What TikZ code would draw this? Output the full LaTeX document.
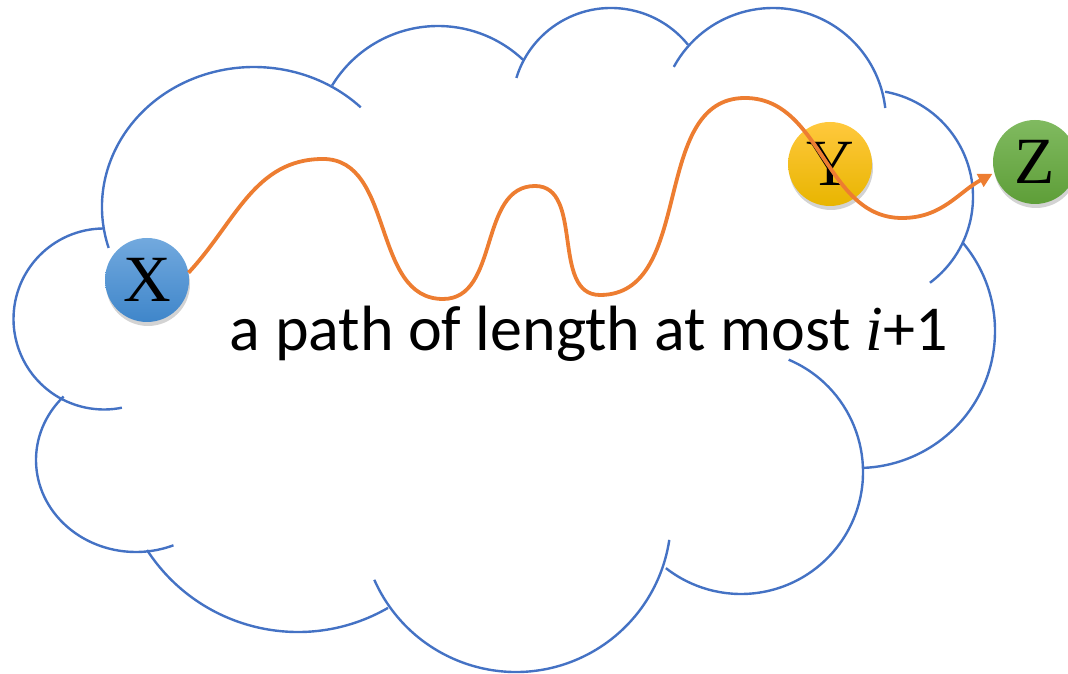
\documentclass[tikz,border=0pt]{standalone}
\usepackage{fontspec}
\setmainfont{Carlito}
\newfontfamily\letterfont{Liberation Serif}
\usetikzlibrary{arrows.meta,shadows}
\definecolor{CloudBlue}{HTML}{4472C4}
\definecolor{WalkOrange}{HTML}{ED7D31}
\definecolor{BlueTop}{HTML}{72A9DE}
\definecolor{BlueBot}{HTML}{3F86CA}
\definecolor{GoldTop}{HTML}{FFC83D}
\definecolor{GoldBot}{HTML}{E8B500}
\definecolor{GreenTop}{HTML}{80BA60}
\definecolor{GreenBot}{HTML}{5E9E38}

\begin{document}
\begin{tikzpicture}[x=1pt,y=1pt,
  cloudarc/.style={draw=CloudBlue, line width=2.4pt},
  ball/.style={circle, minimum size=84pt, inner sep=0pt,
    font=\letterfont\fontsize{66}{66}\selectfont,
    drop shadow={shadow xshift=1pt, shadow yshift=-4pt, opacity=0.35}},
  walk/.style={draw=WalkOrange, line width=3.8pt,
    -{Triangle[length=14pt,width=14pt]}}
]
  \useasboundingbox (0,0) rectangle (1068,674);

  % cloud outline, one arc per lobe
  \foreach \cx/\cy/\rx/\ry/\sa/\ea in {
    254/467/152/140/197/45.4,
    438/524/124/124/148.6/46.6,
    611/567/99/99/162.9/39,
    773/553/113/113/151.4/6.6,
    866/477/107/107/79.7/-53.3,
    858/343/137/137/40/-88,
    741/202/122/122/67/-128,
    516/157/155/155/203.9/351.5,
    298/222/180/180/213/300,
    136/214/100/92/136.4/292,
    104/355/90.5/90.5/90.6/281.4}
    \draw[cloudarc] (\cx,\cy) ++({\sa}:{\rx} and {\ry})
      arc[start angle=\sa, end angle=\ea, x radius=\rx, y radius=\ry];

  \node[ball, top color=BlueTop, bottom color=BlueBot] (X) at (147,394) {X};
  \node[ball, top color=GoldTop, bottom color=GoldBot] (Y) at (830,510) {Y};
  \node[ball, top color=GreenTop, bottom color=GreenBot] (Z) at (1035,512) {Z};

  \node[font=\fontsize{64}{76}\selectfont, anchor=base] (caption) at (589,323)
    {a path of length at most {\letterfont\itshape i}+1};

  \coordinate (crest1) at (323,515);
  \coordinate (dip1) at (443,375);
  \coordinate (crest2) at (535,488);
  \coordinate (dip2) at (600,379);
  \coordinate (crest3) at (745,576);
  \coordinate (dip3) at (902,456);

  \draw[walk, shorten >=2pt] (X.10) to[out=47,in=180] (crest1)
    to[out=0,in=180] (dip1) to[out=0,in=180] (crest2)
    to[out=0,in=180] (dip2) to[out=0,in=180] (crest3)
    to[out=0,in=180] (dip3) to[out=0,in=208] (Z.195);
\end{tikzpicture}
\end{document}
